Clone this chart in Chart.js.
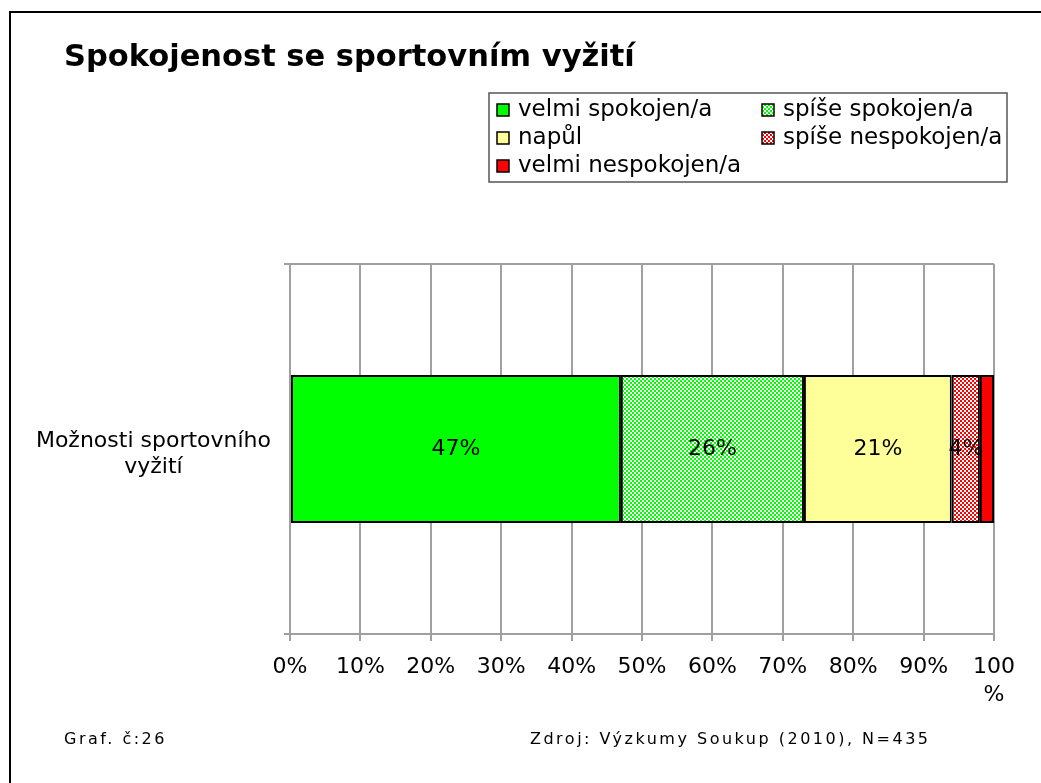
<!DOCTYPE html>
<html>
<head>
<meta charset="utf-8">
<script src="https://cdn.jsdelivr.net/npm/chart.js@4"></script>
<style>
html, body { margin: 0; padding: 0; background: #fff; }
#wrap { width: 1041px; height: 783px; position: relative; }
</style>
</head>
<body>
<div id="wrap"><canvas id="chart" width="1041" height="783"></canvas></div>
<script>
// chart data
const title = 'Spokojenost se sportovním vyžití';
const categories = [['Možnosti sportovního', 'vyžití']];
const seriesNames = ['velmi spokojen/a', 'spíše spokojen/a', 'napůl', 'spíše nespokojen/a', 'velmi nespokojen/a'];
const seriesValues = [[47], [26], [21], [4], [2]];
const valueLabels = ['47%', '26%', '21%', '4%', ''];
const xTicks = [0, 10, 20, 30, 40, 50, 60, 70, 80, 90, 100];
const footLeft = 'Graf. č:26';
const footRight = 'Zdroj: Výzkumy Soukup (2010), N=435';

const FONT = "'DejaVu Sans', Verdana, sans-serif";

// small checker pattern like the excel fills
function checker(color) {
    const c = document.createElement('canvas');
    c.width = 4;
    c.height = 4;
    const g = c.getContext('2d');
    g.fillStyle = '#ffffff';
    g.fillRect(0, 0, 4, 4);
    g.fillStyle = color;
    g.fillRect(0, 0, 2, 2);
    g.fillRect(2, 2, 2, 2);
    return g.createPattern(c, 'repeat');
}

const ctx = document.getElementById('chart').getContext('2d');
const fills = ['#00ff00', checker('#00ff00'), '#ffff99', checker('#ff0000'), '#ff0000'];

const datasets = seriesNames.map(function(name, i) {
    return {
        label: name,
        data: seriesValues[i],
        backgroundColor: fills[i],
        borderColor: '#000000',
        borderWidth: 2,
        borderSkipped: false,
        barPercentage: 0.4,
        categoryPercentage: 1
    };
});

const framePlugin = {
    id: 'frame',
    beforeDraw(chart) {
        const c = chart.ctx;
        c.save();
        c.fillStyle = '#ffffff';
        c.fillRect(0, 0, chart.width, chart.height);
        c.strokeStyle = '#000000';
        c.lineWidth = 2;
        c.strokeRect(10, 12, chart.width + 20, chart.height + 20);

        c.fillStyle = '#000000';
        c.font = 'bold 30.5px ' + FONT;
        c.textBaseline = 'middle';
        c.fillText(title, 64, 58);

        c.font = '16px ' + FONT;
        c.letterSpacing = '2.5px';
        c.textBaseline = 'alphabetic';
        c.fillText(footLeft, 64, 744);
        c.fillText(footRight, 530, 744);
        c.restore();
    },
    afterDatasetsDraw(chart) {
        const c = chart.ctx;
        c.save();
        c.fillStyle = '#000000';
        c.font = '22px ' + FONT;
        c.textAlign = 'center';
        c.textBaseline = 'middle';
        chart.data.datasets.forEach(function(ds, i) {
            if (!valueLabels[i]) return;
            const bar = chart.getDatasetMeta(i).data[0];
            c.fillText(valueLabels[i], (bar.x + bar.base) / 2, bar.y);
        });
        c.restore();
    },
    afterDraw(chart) {
        // legend box, two columns
        const c = chart.ctx;
        c.save();
        c.strokeStyle = '#555555';
        c.lineWidth = 1.5;
        c.strokeRect(489, 93, 518, 89);
        c.font = '23px ' + FONT;
        c.textBaseline = 'middle';
        const cols = [497, 762];
        seriesNames.forEach(function(name, i) {
            const x = cols[i % 2];
            const y = 110 + Math.floor(i / 2) * 28;
            c.fillStyle = fills[i];
            c.fillRect(x, y - 6, 12, 12);
            c.strokeStyle = '#000000';
            c.lineWidth = 1.5;
            c.strokeRect(x, y - 6, 12, 12);
            c.fillStyle = '#000000';
            c.fillText(name, x + 21, y);
        });
        c.restore();
    }
};

new Chart(ctx, {
    type: 'bar',
    data: {
        labels: categories,
        datasets: datasets
    },
    options: {
        indexAxis: 'y',
        responsive: false,
        animation: false,
        layout: {
            padding: { left: 20, top: 264, right: 47, bottom: 62 }
        },
        plugins: {
            legend: { display: false },
            tooltip: { enabled: false },
            title: { display: false }
        },
        scales: {
            x: {
                type: 'linear',
                stacked: true,
                min: 0,
                max: 100,
                afterBuildTicks: function(scale) {
                    scale.ticks = xTicks.map(function(v) { return { value: v }; });
                },
                ticks: {
                    color: '#000000',
                    font: { family: FONT, size: 22, lineHeight: 1.27 },
                    padding: 12,
                    maxRotation: 0,
                    autoSkip: false,
                    callback: function(v) {
                        return v === 100 ? ['100', '%'] : v + '%';
                    }
                },
                grid: { color: '#a0a0a0', lineWidth: 2, tickLength: 7 },
                border: { color: '#a0a0a0', width: 2 }
            },
            y: {
                stacked: true,
                afterFit: function(scale) {
                    scale.width = 270;
                },
                ticks: {
                    color: '#000000',
                    crossAlign: 'center',
                    padding: 13,
                    labelOffset: 5,
                    font: { family: FONT, size: 22, lineHeight: 1.2 }
                },
                grid: { color: '#a0a0a0', lineWidth: 2, tickLength: 6 },
                border: { color: '#a0a0a0', width: 2 }
            }
        }
    },
    plugins: [framePlugin]
});
</script>
</body>
</html>
